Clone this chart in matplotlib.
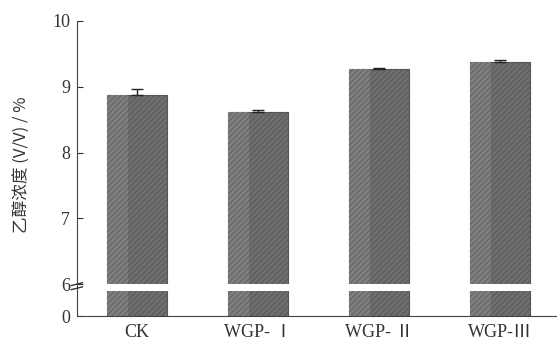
import matplotlib
matplotlib.use("Agg")
import matplotlib.pyplot as plt
import numpy as np

# data
groups = ["CK", "WGP- Ⅰ", "WGP- Ⅱ", "WGP-Ⅲ"]
ethanol = [8.88, 8.61, 9.27, 9.38]
err = [0.08, 0.03, 0.02, 0.02]

plt.rcParams['font.family'] = ['Liberation Serif', 'Noto Sans CJK SC']
plt.rcParams['hatch.linewidth'] = 0.6
plt.rcParams['hatch.color'] = '#555555'

fig = plt.figure(figsize=(5.57, 3.44), dpi=100)
ax_top = fig.add_axes([0.138, 0.174, 0.862, 0.765])
ax_bot = fig.add_axes([0.138, 0.081, 0.862, 0.073])

x = np.arange(len(groups))
for ax in (ax_top, ax_bot):
    ax.bar(x, ethanol, width=0.5, color='#6e6e6e', edgecolor='#555555',
           linewidth=0.8, hatch='//////', zorder=2)
    # slightly lighter strip on the left side of each bar
    ax.bar(x - 0.245, ethanol, width=0.17, align='edge', color='#7e7e7e',
           edgecolor='#5e5e5e', linewidth=0, hatch='//////', zorder=2)
    ax.set_xlim(-0.496, 3.47)
    ax.spines['top'].set_visible(False)
    ax.spines['right'].set_visible(False)
    ax.tick_params(axis='y', direction='in', length=4, labelsize=13, pad=5,
                   colors='#333333')
    for s in ax.spines.values():
        s.set_color('#444444')

ax_top.errorbar(x, ethanol, yerr=[[0] * len(err), err], fmt='none',
                ecolor='#222222', elinewidth=1, capsize=4, zorder=3)
ax_top.set_ylim(6, 10)
ax_top.set_yticks([6, 7, 8, 9, 10])
ax_top.spines['bottom'].set_visible(False)
ax_top.set_xticks([])

ax_bot.set_ylim(0, 0.4)
ax_bot.set_yticks([0])
ax_bot.set_xticks(x)
ax_bot.set_xticklabels(groups, fontsize=13, color='#333333')
ax_bot.tick_params(axis='x', length=0, pad=6)

# break marks on the y axis
fig.lines.append(plt.Line2D([0.138, 0.138], [0.154, 0.174],
                            transform=fig.transFigure, color='#444444', lw=0.8))
for yy in (0.0, 0.012):
    fig.lines.append(plt.Line2D([0.128, 0.148], [0.158 + yy, 0.166 + yy],
                                transform=fig.transFigure, color='#333333', lw=1))

fig.text(0.04, 0.52, "乙醇浓度 (V/V) / %", rotation=90, ha='center', va='center',
         fontsize=12, family=['Noto Sans CJK SC', 'Liberation Serif'], color='#333333')

fig.savefig("out.png", dpi=100)
